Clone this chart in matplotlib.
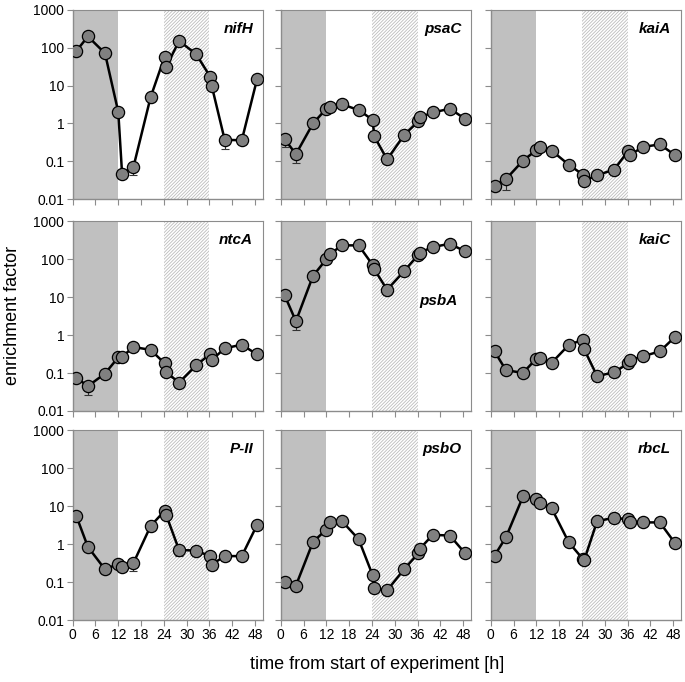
"""3x3 grid of transcript enrichment time courses (log scale)."""

import matplotlib
matplotlib.use("Agg")
import matplotlib.pyplot as plt
import numpy as np

# ==============================================================================
# DATA
# ==============================================================================

hours = [1, 4, 8.5, 12, 13, 16, 20.5, 24.2, 24.6, 28, 32.5, 36.2, 36.6, 40, 44.5, 48.5]

genes = ["nifH", "psaC", "kaiA", "ntcA", "psbA", "kaiC", "P-II", "psbO", "rbcL"]

nifH = [82, 197, 71, 2.0, 0.047, 0.072, 4.9, 58, 31, 150, 67, 17, 9.7, 0.37, 0.36, 14.5]
psaC = [0.39, 0.155, 1.0, 2.44, 2.65, 3.24, 2.25, 1.25, 0.46, 0.112, 0.50, 1.13, 1.44, 1.95, 2.44, 1.33]
kaiA = [0.0225, 0.034, 0.105, 0.197, 0.24, 0.193, 0.082, 0.045, 0.0305, 0.043, 0.061, 0.19, 0.146, 0.24, 0.28, 0.146]
ntcA = [0.075, 0.045, 0.097, 0.26, 0.27, 0.485, 0.41, 0.18, 0.105, 0.056, 0.16, 0.32, 0.22, 0.45, 0.56, 0.31]
psbA = [11.4, 2.33, 36.6, 100, 135, 233, 233, 71, 55, 15.7, 49, 132, 150, 210, 257, 162]
kaiC = [0.373, 0.119, 0.101, 0.24, 0.245, 0.185, 0.547, 0.755, 0.42, 0.083, 0.105, 0.181, 0.217, 0.276, 0.373, 0.90]
P_II = [5.4, 0.85, 0.217, 0.30, 0.25, 0.32, 3.0, 7.6, 5.9, 0.70, 0.68, 0.475, 0.29, 0.485, 0.485, 3.2]
psbO = [0.10, 0.081, 1.15, 2.42, 3.93, 4.17, 1.35, 0.151, 0.069, 0.060, 0.221, 0.57, 0.755, 1.76, 1.69, 0.58]
rbcL = [0.50, 1.52, 18.2, 15.5, 12.5, 8.9, 1.13, 0.41, 0.38, 4.06, 4.96, 4.5, 3.8, 3.75, 3.75, 1.06]

# lower end of the visible error bars: (point index, lower value)
err_low = {
    "nifH": [(5, 0.045), (13, 0.21)],
    "psaC": [(0, 0.24), (1, 0.09), (7, 0.95)],
    "kaiA": [(1, 0.018), (8, 0.026)],
    "ntcA": [(1, 0.027)],
    "psbA": [(1, 1.4)],
    "kaiC": [(1, 0.095)],
    "P-II": [(5, 0.2), (9, 0.5), (13, 0.37)],
    "psbO": [],
    "rbcL": [(8, 0.3)],
}

series = {
    "nifH": nifH, "psaC": psaC, "kaiA": kaiA,
    "ntcA": ntcA, "psbA": psbA, "kaiC": kaiC,
    "P-II": P_II, "psbO": psbO, "rbcL": rbcL,
}

dark_period = (0, 12)
subjective_dark = (24, 36)
x_ticks = [0, 6, 12, 18, 24, 30, 36, 42, 48]
y_ticks = [0.01, 0.1, 1, 10, 100, 1000]
y_tick_labels = ["0.01", "0.1", "1", "10", "100", "1000"]

# ==============================================================================
# STYLE
# ==============================================================================

plt.rcParams.update({
    "font.family": ["Liberation Sans", "DejaVu Sans"],
    "font.size": 10,
    "hatch.color": "#bcbcbc",
    "hatch.linewidth": 0.6,
})

SPINE = "#8c8c8c"
SHADE = "#c0c0c0"
MARKER = "#808080"

# label position (axes fraction, right edge / centre)
label_pos = {
    "psbA": (0.93, 0.58),
}

# ==============================================================================
# FIGURE
# ==============================================================================

fig = plt.figure(figsize=(6.85, 6.82), dpi=100)

col_left = [0.1061, 0.4098, 0.7164]
row_bottom = [0.7078, 0.3974, 0.0909]
w, h = 0.2774, 0.2780

for k, gene in enumerate(genes):
    r, c = divmod(k, 3)
    ax = fig.add_axes([col_left[c], row_bottom[r], w, h])

    ax.axvspan(*dark_period, color=SHADE, lw=0, zorder=0)
    ax.axvspan(*subjective_dark, facecolor="white", edgecolor="#bcbcbc",
               hatch="//////////", lw=0, zorder=0)

    vals = np.array(series[gene])
    lo = np.zeros_like(vals)
    for idx, low in err_low[gene]:
        lo[idx] = vals[idx] - low
    ax.errorbar(hours, vals, yerr=[lo, np.zeros_like(vals)], fmt="none",
                ecolor="#333333", elinewidth=0.8, capsize=3, capthick=0.8, zorder=2)
    ax.plot(hours, vals, color="black", lw=1.8, zorder=3)
    ax.plot(hours, vals, "o", ms=8.8, mfc=MARKER, mec="black", mew=0.9, zorder=4)

    ax.set_yscale("log")
    ax.set_ylim(0.01, 1000)
    ax.set_xlim(0, 50)
    ax.set_xticks(x_ticks)
    ax.set_yticks(y_ticks)
    ax.yaxis.set_minor_locator(matplotlib.ticker.NullLocator())

    if c == 0:
        ax.set_yticklabels(y_tick_labels)
    else:
        ax.set_yticklabels([])
    if r == 2:
        ax.set_xticklabels([str(t) for t in x_ticks])
    else:
        ax.set_xticklabels([])

    ax.tick_params(axis="both", direction="out", length=4, width=0.8,
                   color=SPINE, labelsize=10, pad=2)
    for side, sp in ax.spines.items():
        sp.set_color(SPINE)
        sp.set_linewidth(1.0 if side in ("left", "bottom") else 0.8)

    lx, ly = label_pos.get(gene, (0.95, 0.90))
    ax.text(lx, ly, gene, transform=ax.transAxes, ha="right", va="center",
            fontsize=11, fontweight="bold", fontstyle="italic", zorder=5)

fig.text(0.018, 0.538, "enrichment factor", rotation=90, ha="center", va="center",
         fontsize=13)
fig.text(0.55, 0.025, "time from start of experiment [h]", ha="center", va="center",
         fontsize=13)

fig.savefig("out.png", dpi=100)
